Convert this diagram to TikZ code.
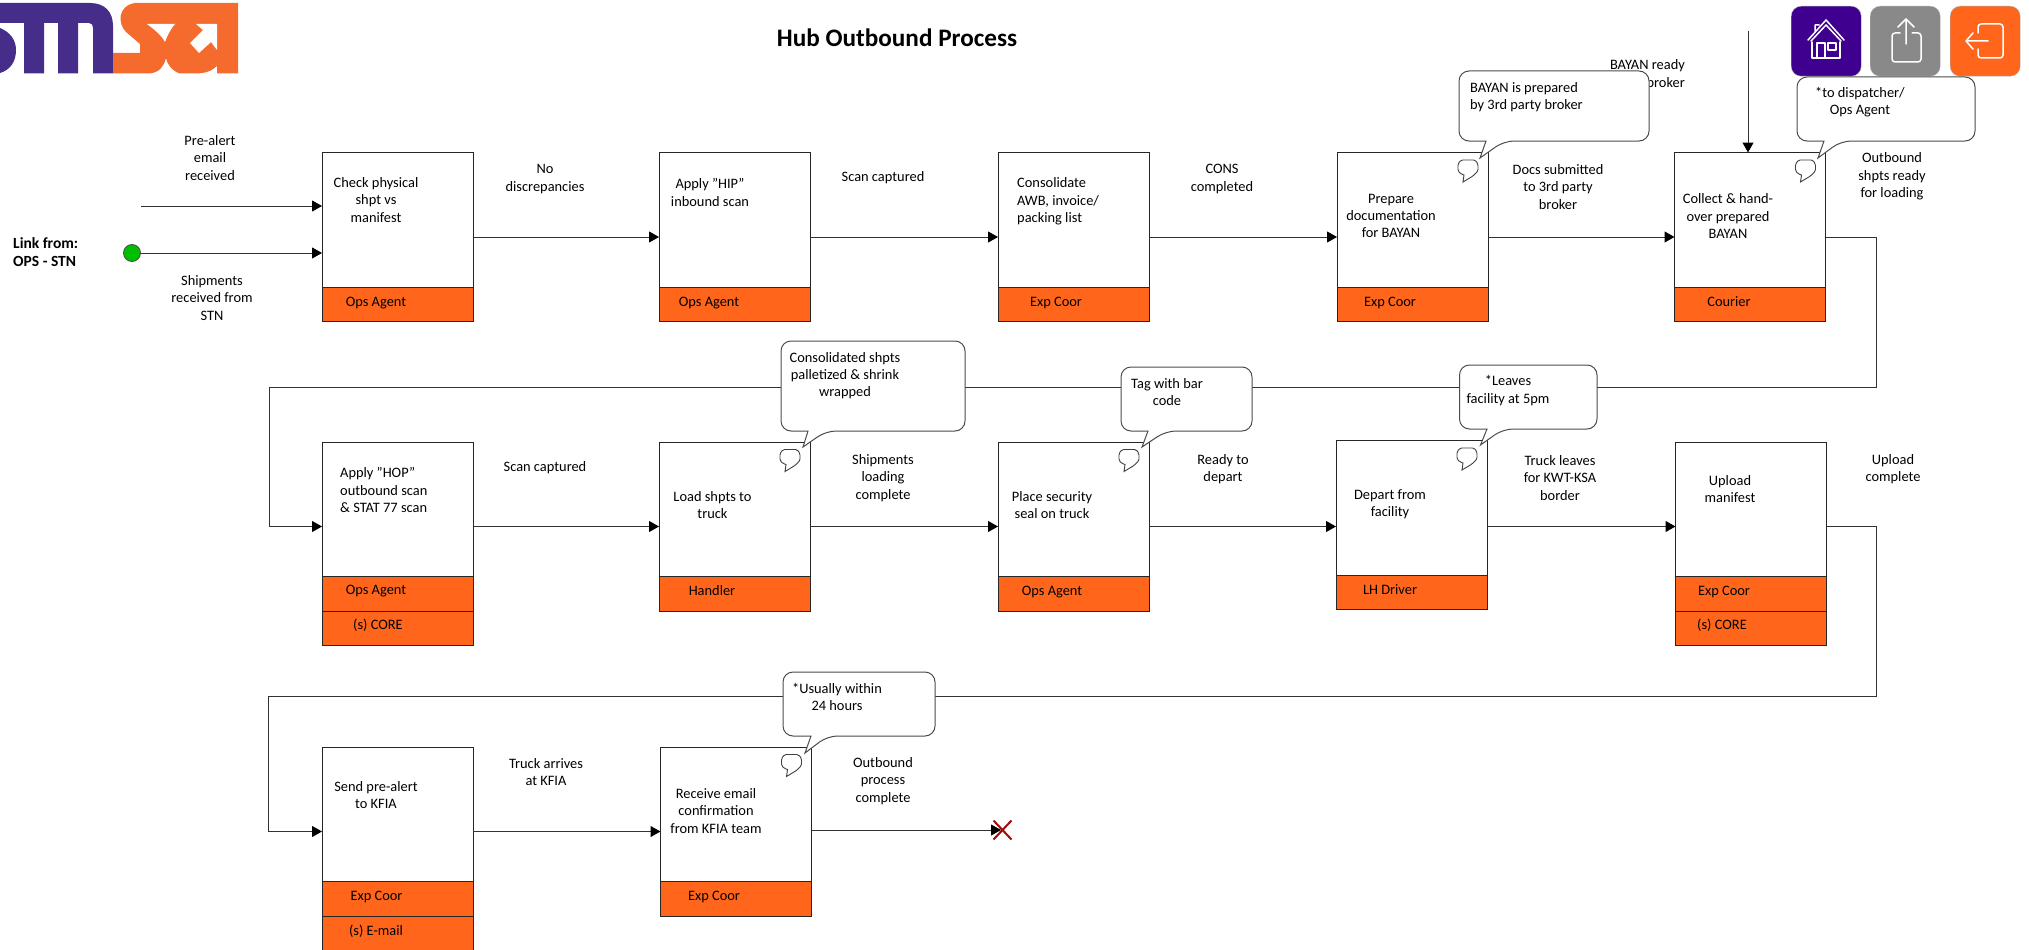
\documentclass[tikz,border=0pt]{standalone}
\usepackage{fontspec}
\setmainfont{Carlito}
\usepackage{tikz}
\usetikzlibrary{arrows.meta,shapes.misc}
\definecolor{rolefill}{HTML}{FF661C}
\definecolor{logopurple}{HTML}{462D89}
\definecolor{logoorange}{HTML}{F56B2D}
\definecolor{homefill}{HTML}{3F008F}
\definecolor{sharefill}{HTML}{898989}
\tikzset{
	flowbox/.style={rectangle,draw=black!85,line width=1pt,fill=white,anchor=north west,inner sep=0pt,outer sep=0pt,minimum width=151pt,minimum height=169pt},
	rolebox/.style={rectangle,draw=black!85,line width=1pt,fill=rolefill,inner sep=0pt,outer sep=0pt,minimum width=151pt,minimum height=34.5pt},
	txt/.style={inner sep=0pt,align=center,font=\fontsize{14.4}{17.3}\selectfont},
	ltxt/.style={inner sep=0pt,align=left,anchor=west,font=\fontsize{14.4}{17.3}\selectfont},
	callbox/.style={draw=black!70,line width=1pt,fill=white},
	iconbtn/.style={rectangle,rounded corners=10pt,draw=black!30,anchor=north west,inner sep=0pt,minimum width=70pt,minimum height=70pt},
	iconline/.style={draw=white,line width=1.5pt,line cap=round,line join=round},
	noteicon/.pic={
		\draw[draw=black!75,line width=0.9pt,fill=white,rounded corners=1.5pt] (-7,-8) -- (7,-8) -- (10,-4) -- (10,3) -- (5,8) [sharp corners] -- (-5,14) -- (-4,7) [rounded corners=1.5pt] -- (-7,6) -- (-10,3) -- (-10,-4) -- cycle;
	}
}
\begin{document}
\begin{tikzpicture}[x=1pt,y=-1pt,>={Triangle[length=10pt,width=11pt,black]}]
		\useasboundingbox (0,0) rectangle (2029,950);

		\fill [logopurple] (0,3) -- (90,3) .. controls (105,3) and (113,12) .. (113,26) -- (113,73.5) -- (93,73.5) -- (93,28) .. controls (93,25) and (92,23) .. (89,23) -- (78,23) -- (78,73.5) -- (58,73.5) -- (58,23) -- (44,23) -- (44,73.5) -- (24,73.5) -- (24,23) -- (0,23) -- cycle;
		\fill [logopurple] (0,28) .. controls (10,32) and (16,40) .. (16,50) .. controls (16,62) and (10,70) .. (0,73) -- cycle;
		\fill [logoorange] (113,73.5) -- (113,53) -- (140,53) -- (140,44) -- (126,32) .. controls (118,24) and (117,6) .. (135,3) -- (238,3) -- (238,73.5) -- (217,73.5) -- (217,66) .. controls (212,71) and (205,73.5) .. (195,73.5) -- (180,73.5) .. controls (172,71) and (167,64) .. (166,58) .. controls (164,66) and (160,72) .. (150,73.5) -- cycle;
		\fill [white] (147,24) -- (175,24) .. controls (170,30) and (167,36) .. (165,42) .. controls (162,36) and (155,30) .. (147,24) -- cycle;
		\fill [white] (196,24) -- (217,24) -- (217,50) -- (211,42) -- (199,53) -- (190,43) -- (203,30) -- cycle;

		\node [font=\fontsize{25.2}{30}\selectfont\bfseries,inner sep=0pt] (title) at (897,38) {Hub Outbound Process};

		\node [iconbtn,fill=homefill] (home) at (1791,6) {};
		\node [iconbtn,fill=sharefill] (share) at (1870,6) {};
		\node [iconbtn,fill=rolefill] (exit) at (1950,6) {};
		\draw [iconline] (1808,40) -- (1826,20) -- (1844,40) (1811,41) -- (1826,25) -- (1841,41) (1815,31) -- (1815,25) -- (1819,25);
		\draw [iconline] (1812,42) -- (1812,58) -- (1840,58) -- (1840,42) (1817,58) -- (1817,43) -- (1825,43) -- (1825,58) (1828,43) rectangle (1836,50);
		\draw [iconline,rounded corners=3pt] (1900,33) -- (1892,33) -- (1892,62) -- (1921,62) -- (1921,33) -- (1912,33);
		\draw [iconline] (1906,44) -- (1906,19) (1898,27) -- (1906,19) -- (1914,27);
		\draw [iconline,rounded corners=3pt] (1978,33) -- (1978,24) -- (2003,24) -- (2003,58) -- (1978,58) -- (1978,49);
		\draw [iconline] (1988,41) -- (1966,41) (1973,33) -- (1966,41) -- (1973,49);

		\node [txt] (lbayan) [align=right,anchor=east] at (1685,73.5) {BAYAN ready\\broker};

		\begin{scope}[every node/.style={flowbox}]
			\node (chk) at (322,152.5) {};
			\node (hip) at (659,152.5) {};
			\node (cons) at (998,152.5) {};
			\node (prep) at (1337,152.5) {};
			\node (coll) at (1674.5,152.5) {};

			\node (hop) at (322,442) {};
			\node (load) at (659,442) {};
			\node (seal) at (998,442) {};
			\node (dep) at (1336,440.5) {};
			\node (upl) at (1675.5,442) {};

			\node (send) at (322,747) {};
			\node (rcv) at (660.5,747) {};
		\end{scope}

		\begin{scope}[every node/.style={rolebox,anchor=south west}]
			\node (chkr) at (chk.south west) {};
			\node (hipr) at (hip.south west) {};
			\node (consr) at (cons.south west) {};
			\node (prepr) at (prep.south west) {};
			\node (collr) at (coll.south west) {};
			\node (hopr) at (hop.south west) {};
			\node (loadr) at (load.south west) {};
			\node (sealr) at (seal.south west) {};
			\node (depr) at (dep.south west) {};
			\node (uplr) at (upl.south west) {};
			\node (sendr) at (send.south west) {};
			\node (rcvr) at (rcv.south west) {};
		\end{scope}
		\begin{scope}[every node/.style={rolebox,anchor=north west}]
			\node (hops) at (hopr.south west) {};
			\node (upls) at (uplr.south west) {};
			\node (sends) at (sendr.south west) {};
		\end{scope}

		\node [circle,draw=black!70,fill=green!75!black,line width=0.8pt,inner sep=0pt,minimum size=17pt] (start) at (132,253) {};
		\coordinate (pre) at (141,206);
		\coordinate (bay) at (1748,31);
		\coordinate (r1a) at (1876,387);
		\coordinate (r1b) at (269,387);
		\coordinate (r2a) at (1876,696);
		\coordinate (r2b) at (268,696);
		\coordinate (fin) at (1001,830);

		\begin{scope}[every edge/.style={draw=black!80,line width=1pt}]
			\path [->] (pre) edge (chk.west |- pre);
			\path [->] (start) edge (chk.west |- start);
			\path [->] (bay) edge (coll.north -| bay);
			\path [->] (chk) edge (hip);
			\path [->] (hip) edge (cons);
			\path [->] (cons) edge (prep);
			\path [->] (prep) edge (coll);
			\path [->] (hop) edge (load);
			\path [->] (load) edge (seal);
			\path [->] (seal.east) edge (dep.west |- seal.east);
			\path [->] (dep.east |- seal.east) edge (upl.west |- seal.east);
			\path [->] (send) edge (rcv);
			\path [->] (rcv.east |- fin) edge (fin);
		\end{scope}
		\draw [->,draw=black!80,line width=1pt] (coll.east) -| (r1a) -- (r1b) |- (hop.west);
		\draw [->,draw=black!80,line width=1pt] (upl.east) -| (r2a) -- (r2b) |- (send.west);
		\node [cross out,draw={rgb,255:red,160;green,10;blue,10},line width=2pt,inner sep=0pt,minimum width=16pt,minimum height=17pt] (stop) at (1002.5,830) {};

		\draw [callbox] [rounded corners=10pt] (1459,71) -- (1649,71) -- (1649,141) -- (1504,141) [sharp corners] -- (1480,158) -- (1486,141) [rounded corners=10pt] -- (1459,141) -- cycle;
		\draw [callbox] [rounded corners=10pt] (1797,77) -- (1975,77) -- (1975,141) -- (1841,141) [sharp corners] -- (1818,158) -- (1824,141) [rounded corners=10pt] -- (1797,141) -- cycle;
		\draw [callbox] [rounded corners=10pt] (781,341) -- (965,341) -- (965,431) -- (826,431) [sharp corners] -- (803,447) -- (808,431) [rounded corners=10pt] -- (781,431) -- cycle;
		\draw [callbox] [rounded corners=10pt] (1121,367) -- (1252,367) -- (1252,431) -- (1166,431) [sharp corners] -- (1142,447) -- (1148,431) [rounded corners=10pt] -- (1121,431) -- cycle;
		\draw [callbox] [rounded corners=10pt] (1459.5,365) -- (1597,365) -- (1597,429) -- (1503,429) [sharp corners] -- (1480.5,445) -- (1487,429) [rounded corners=10pt] -- (1459.5,429) -- cycle;
		\draw [callbox] [rounded corners=10pt] (783,672) -- (935,672) -- (935,736) -- (827.5,736) [sharp corners] -- (805,753) -- (811,736) [rounded corners=10pt] -- (783,736) -- cycle;

		\pic at ([xshift=-20pt,yshift=-15.5pt]prep.north east) {noteicon};
		\pic at ([xshift=-20pt,yshift=-15.5pt]coll.north east) {noteicon};
		\pic at ([xshift=-20pt,yshift=-15.5pt]load.north east) {noteicon};
		\pic at ([xshift=-20pt,yshift=-15.5pt]seal.north east) {noteicon};
		\pic at ([xshift=-20pt,yshift=-15.5pt]dep.north east) {noteicon};
		\pic at ([xshift=-20pt,yshift=-15.5pt]rcv.north east) {noteicon};

		\begin{scope}[every node/.style={txt}]
			\node (l1) at (210,158) {Pre-alert\\email\\received};
			\node (l2) at (212,298) {Shipments\\received from\\STN};
			\node (l3) at (545,179) {No\\discrepancies};
			\node (l4) at (883,178) {Scan captured};
			\node (l5) at (1222,179) {CONS\\completed};
			\node (l6) at (1558,187) {Docs submitted\\to 3rd party\\broker};
			\node (l7) at (1892,176.5) {Outbound\\shpts ready\\for loading};
			\node (l8) at (545,468) {Scan captured};
			\node (l9) at (883,478) {Shipments\\loading\\complete};
			\node (l10) at (1223,469) {Ready to\\depart};
			\node (l11) at (1560,478) {Truck leaves\\for KWT-KSA\\border};
			\node (l12) at (1893,469) {Upload\\complete};
			\node (l13) at (546,772) {Truck arrives\\at KFIA};
			\node (l14) at (883,781) {Outbound\\process\\complete};

			\node (chkt) at (376,200) {Check physical\\shpt vs\\manifest};
			\node (hipt) at (710,192.5) {Apply "HIP"\\inbound scan};
			\node (prept) at (1391,216) {Prepare\\documentation\\for BAYAN};
			\node (collt) at (1728,216) {Collect \& hand-\\over prepared\\BAYAN};
			\node (loadt) at (712.5,505) {Load shpts to\\truck};
			\node (sealt) at (1052,505) {Place security\\seal on truck};
			\node (dept) at (1390,504) {Depart from\\facility};
			\node (uplt) at (1730,489) {Upload\\manifest};
			\node (sendt) at (376,795) {Send pre-alert\\to KFIA};
			\node (rcvt) at (716,811) {Receive email\\confirmation\\from KFIA team};

			\node (c2t) at (1860,102) {*to dispatcher/\\Ops Agent};
			\node (c3t) at (845,375.5) {Consolidated shpts\\palletized \& shrink\\wrapped};
			\node (c4t) at (1167,392) {Tag with bar\\code};
			\node (c5t) at (1508,390.5) {*Leaves\\facility at 5pm};
			\node (c6t) at (837,697) {*Usually within\\24 hours};

			\node (chkrt) at (376,303) {Ops Agent};
			\node (hiprt) at (709,303) {Ops Agent};
			\node (consrt) at (1056,303) {Exp Coor};
			\node (preprt) at (1390,303) {Exp Coor};
			\node (collrt) at (1729,302) {Courier};
			\node (hoprt) at (376,591) {Ops Agent};
			\node (hopst) at (378,625) {(s) CORE};
			\node (loadrt) at (712,591) {Handler};
			\node (sealrt) at (1052,592) {Ops Agent};
			\node (deprt) at (1390,590) {LH Driver};
			\node (uplrt) at (1724,591.5) {Exp Coor};
			\node (uplst) at (1722,625) {(s) CORE};
			\node (sendrt) at (376.5,897) {Exp Coor};
			\node (sendst) at (376,931) {(s) E-mail};
			\node (rcvrt) at (714,897) {Exp Coor};
		\end{scope}

		\begin{scope}[every node/.style={ltxt}]
			\node (link) [font=\fontsize{15.5}{18}\selectfont\bfseries] at (13,252) {Link from:\\OPS - STN};
			\node (const) at (1017,201.5) {Consolidate\\AWB, invoice/\\packing list};
			\node (hopt) at (340,490) {Apply "HOP"\\outbound scan\\\& STAT 77 scan};
			\node (c1t) at (1470,97) {BAYAN is prepared\\by 3rd party broker};
		\end{scope}
		\end{tikzpicture}
\end{document}
